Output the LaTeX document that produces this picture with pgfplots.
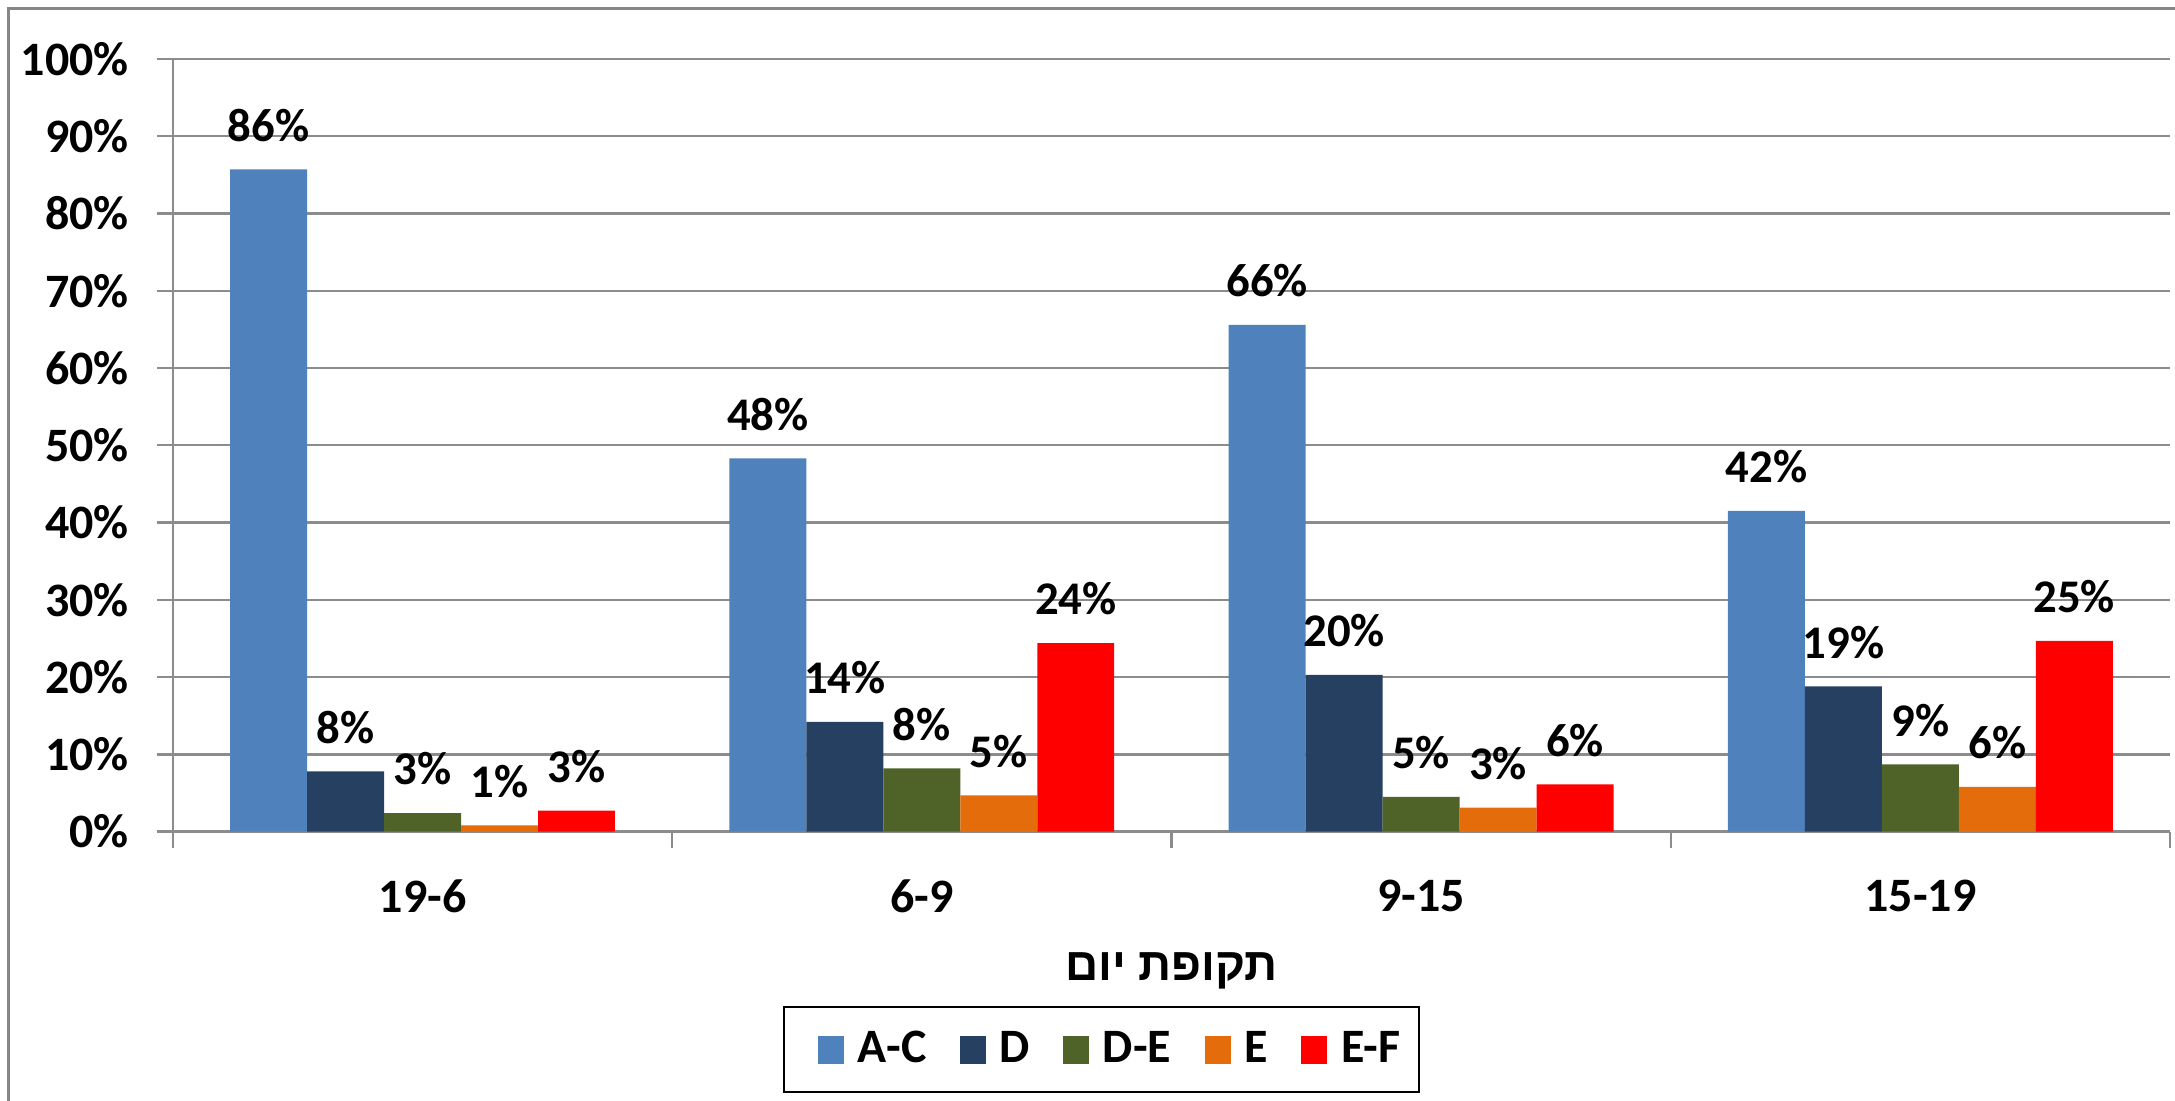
\documentclass[border=0pt]{standalone}
\usepackage{fontspec}
\setmainfont{Carlito}
\newfontfamily\hebfont[Script=Hebrew]{Liberation Sans}
\TeXXeTstate=1
\usepackage{pgfplots}
\pgfplotsset{compat=1.18}
\definecolor{cAC}{HTML}{4F81BD}
\definecolor{cD}{HTML}{254061}
\definecolor{cDE}{HTML}{4F6228}
\definecolor{cE}{HTML}{E46C0A}
\definecolor{cEF}{HTML}{FF0000}
\definecolor{gridgray}{HTML}{8C8C8C}
\definecolor{framegray}{HTML}{868686}

\begin{document}
\begin{tikzpicture}
\path[use as bounding box] (-43.25pt,-67.25pt) rectangle (500.75pt,208pt);
\draw[framegray, line width=0.75pt] (-41pt,-90pt) -- (-41pt,205.75pt) -- (510pt,205.75pt);
\begin{axis}[
  at={(0,0)}, anchor=south west,
  width=499.5pt, height=193.25pt, scale only axis,
  ybar=0pt, bar width=19.25pt,
  xmin=-0.5, xmax=3.5, ymin=0, ymax=100,
  xtick={-0.5,0.5,1.5,2.5,3.5},
  x tick label as interval,
  xticklabels={19-6,6-9,9-15,15-19},
  ytick={0,10,...,100},
  yticklabel={\pgfmathprintnumber{\tick}\%},
  /pgf/number format/assume math mode=true,
  axis x line*=bottom, axis y line*=left,
  tick align=outside, major tick length=4pt,
  ymajorgrids, grid style={gridgray, line width=0.6pt},
  axis line style={gridgray, line width=0.6pt},
  tick style={gridgray, line width=0.6pt},
  tick label style={font=\bfseries\fontsize{12}{14}\selectfont},
  xticklabel style={yshift=-4.5pt},
  yticklabel style={xshift=-3.5pt},
  point meta=explicit symbolic,
  nodes near coords={\pgfplotspointmeta\%},
  nodes near coords style={font=\bfseries\fontsize{11.7}{13}\selectfont, anchor=south, inner sep=0pt, yshift=6.75pt, text=black},
  xlabel={\hebfont\bfseries\beginR תקופת יום\endR},
  xlabel style={font=\fontsize{11.5}{14}\selectfont, at={(axis description cs:0.5,0)}, anchor=center, yshift=-34.75pt},
  every axis plot post/.append style={legend image code/.code={\path (-3.85pt,0pt); \fill[##1] (0pt,-3.5pt) rectangle (6.5pt,3.5pt);}},
  legend columns=5,
  legend style={at={(axis description cs:0.465,0)}, anchor=center, yshift=-54.5pt,
    draw=black, line width=0.6pt, inner xsep=4.75pt, inner ysep=5.9pt,
    nodes={inner sep=0pt},
    font=\bfseries\fontsize{12}{14}\selectfont,
    /tikz/every odd column/.append style={column sep=3.4pt},
    /tikz/every even column/.append style={column sep=4.55pt}},
]
\addplot[fill=cAC, draw=none] coordinates {(0,85.7) [86] (1,48.3) [48] (2,65.6) [66] (3,41.5) [42]};
\addlegendentry{A-C}
\addplot[fill=cD, draw=none] coordinates {(0,7.8) [8] (1,14.2) [14] (2,20.3) [20] (3,18.8) [19]};
\addlegendentry{D}
\addplot[fill=cDE, draw=none] coordinates {(0,2.4) [3] (1,8.2) [8] (2,4.5) [5] (3,8.7) [9]};
\addlegendentry{D-E}
\addplot[fill=cE, draw=none] coordinates {(0,0.8) [1] (1,4.7) [5] (2,3.1) [3] (3,5.8) [6]};
\addlegendentry{E}
\addplot[fill=cEF, draw=none] coordinates {(0,2.7) [3] (1,24.4) [24] (2,6.1) [6] (3,24.7) [25]};
\addlegendentry{E-F}
\end{axis}
\end{tikzpicture}
\end{document}
